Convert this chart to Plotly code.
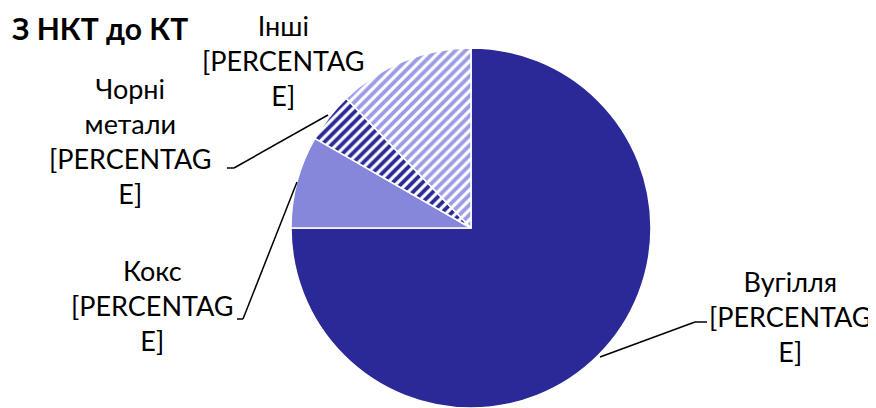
import plotly.graph_objects as go

# page body has an 8px margin, so the figure is drawn 8px inside the window
OFF = 8
W, H = 876 - OFF, 408 - OFF

categories = ["Вугілля", "Кокс", "Чорні метали", "Інші"]
values = [75.0, 8.3, 4.5, 12.2]
label_text = [
    "Вугілля<br>[PERCENTAG<br>E]",
    "Кокс<br>[PERCENTAG<br>E]",
    "Чорні<br>метали<br>[PERCENTAG<br>E]",
    "Інші<br>[PERCENTAG<br>E]",
]
title_text = "<b>З НКТ до КТ</b>"

NAVY = "#2A2997"
KOKS = "#8686DA"
LIGHT = "#9C9CE6"

def px(x, y):
    """window pixel -> paper coords"""
    return (x - OFF) / W, 1 - (y - OFF) / H

# pie geometry (window pixels)
cx, cy, r = 471, 228, 180
x0p, _ = px(cx - r, 0)
x1p, _ = px(cx + r, 0)
_, y1p = px(0, cy - r)
_, y0p = px(0, cy + r)

fig = go.Figure()
fig.add_trace(go.Pie(
    labels=categories,
    values=values,
    sort=False,
    direction="clockwise",
    rotation=0,
    textinfo="none",
    hoverinfo="label+percent",
    showlegend=False,
    marker=dict(
        colors=[NAVY, KOKS, NAVY, LIGHT],
        line=dict(color="white", width=1.5),
        pattern=dict(
            shape=["", "", "/", "/"],
            fgcolor=["white", "white", "white", "white"],
            bgcolor=[NAVY, KOKS, NAVY, LIGHT],
            size=7,
            solidity=0.45,
            fillmode="replace",
        ),
    ),
    domain=dict(x=[max(0, x0p), min(1, x1p)], y=[max(0, y0p), min(1, y1p)]),
))

font_lbl = dict(family="Lato, Open Sans, sans-serif", size=27, color="black")

# label anchors (window pixel centre of text block)
label_pos = [(790, 316), (152, 305), (130, 141), (283, 60)]
annotations = []
for t, (x, y) in zip(label_text, label_pos):
    ax, ay = px(x, y)
    annotations.append(dict(text=t, x=ax, y=ay, xref="paper", yref="paper",
                            xanchor="center", yanchor="middle", showarrow=False,
                            font=font_lbl, align="center"))

tx, _ = px(10, 0)
annotations.append(dict(text=title_text, x=tx, y=1.0, xref="paper", yref="paper",
                        xanchor="left", yanchor="top", showarrow=False,
                        font=dict(family="Lato, Open Sans, sans-serif", size=30, color="black")))

# leader lines (window pixel polylines)
leaders = [
    [(707, 322), (695, 322), (600, 357)],
    [(237, 319), (243, 319), (297, 182)],
    [(227, 168), (234, 168), (328, 115)],
]
shapes = []
for pts in leaders:
    for (xa, ya), (xb, yb) in zip(pts[:-1], pts[1:]):
        a0, b0 = px(xa, ya)
        a1, b1 = px(xb, yb)
        shapes.append(dict(type="line", xref="paper", yref="paper",
                           x0=a0, y0=b0, x1=a1, y1=b1,
                           line=dict(color="black", width=1.5)))

fig.update_layout(
    width=W, height=H,
    margin=dict(l=0, r=0, t=0, b=0),
    paper_bgcolor="white",
    plot_bgcolor="white",
    annotations=annotations,
    shapes=shapes,
)

fig.write_html("out.html")
